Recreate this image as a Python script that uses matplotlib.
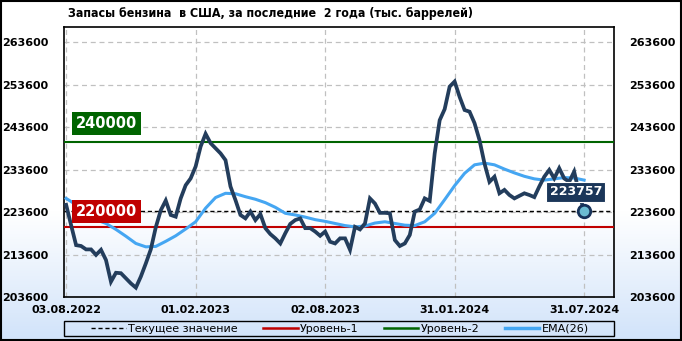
import matplotlib.pyplot as plt
import matplotlib.dates as mdates
from matplotlib.patches import Rectangle
from matplotlib.lines import Line2D
from matplotlib import font_manager
import numpy as np
import pandas as pd

# weekly gasoline stocks, thousand barrels
stocks = [225300, 220500, 215800, 215600, 214800, 214800, 213500, 214700, 212300, 207200,
          209300, 209200, 208000, 206800, 205800, 208400, 211500, 214800, 220000, 224000,
          226300, 222900, 222500, 226800, 229900, 231500, 234300, 239000, 242000, 239800,
          238600, 237400, 235800, 229600, 226400, 222900, 222100, 223700, 221700, 223100,
          219800, 218400, 217400, 216200, 218600, 220800, 221700, 222100, 219800, 219800,
          219000, 218000, 219000, 216600, 216200, 217400, 217400, 214700, 220100, 219500,
          220900, 226800, 225600, 223400, 223400, 223300, 217000, 215600, 216200, 218200,
          223700, 224200, 226800, 226200, 237400, 245200, 247800, 253100, 254300, 250700,
          247600, 247200, 244500, 240500, 235000, 230700, 231900, 228000, 228800, 227600,
          226800, 227400, 228000, 227600, 227100, 229600, 231900, 233500, 231500, 233900,
          231500, 230700, 233100, 228000, 223757]

# EMA(26) read every 2 weeks
ema = [226800, 225300, 223500, 221800, 220900, 219500, 217900, 216200, 215400, 215500,
       216700, 218000, 219600, 221300, 224500, 227000, 228000, 227900, 227200, 226600,
       225800, 224700, 223300, 222900, 222400, 221800, 221400, 220900, 220400, 220100,
       220300, 221000, 221300, 220900, 220500, 220400, 221300, 223300, 226500, 229800,
       232700, 234700, 235100, 234700, 233700, 232800, 232000, 231400, 231100, 231400,
       231700, 231600, 231100]

level1 = 220000
level2 = 240000
current = stocks[-1]

dates = pd.date_range("2022-08-03", periods=len(stocks), freq="7D")
ema_dates = dates[::2]
tick_dates = pd.to_datetime(["2022-08-03", "2023-02-01", "2023-08-02", "2024-01-31", "2024-07-31"])
yticks = np.arange(203600, 263601, 10000)

# narrow font for the title if there is one
title_kw = dict(family="DejaVu Sans", fontsize=7.7)
for fam, st, sz in [("Liberation Sans Narrow", "normal", 10), ("DejaVu Sans", "condensed", 8.9)]:
    fp = font_manager.FontProperties(family=fam, stretch=st, weight="bold")
    path = font_manager.findfont(fp, fallback_to_default=True)
    if "Narrow" in path or "Condensed" in path:
        title_kw = dict(family=fam, fontstretch=st, fontsize=sz)
        break

fig = plt.figure(figsize=(6.82, 3.41), dpi=100)

# background gradient
bg = fig.add_axes([0, 0, 1, 1], zorder=-10)
t = np.linspace(0, 1, 256)
g = np.clip((t - 0.62) / 0.38, 0, 1)
top = np.array([1.0, 1.0, 1.0])
bot = np.array([0.82, 0.89, 0.98])
grad = (top[None, :] * (1 - g[:, None]) + bot[None, :] * g[:, None])[:, None, :]
bg.imshow(grad, aspect="auto", extent=[0, 1, 0, 1], origin="upper")
bg.axis("off")
fig.patches.append(Rectangle((0.001, 0.002), 0.997, 0.995, transform=fig.transFigure,
                             fill=False, edgecolor="black", linewidth=1.5))

ax = fig.add_axes([64 / 682, 1 - 297 / 341, 550 / 682, 270 / 341])
ax.set_facecolor("none")

ax.plot(dates, stocks, color="#233d5c", linewidth=2.7, zorder=5, solid_joinstyle="miter")
ax.plot(ema_dates, ema, color="#45a6f2", linewidth=2.2, zorder=4)
ax.axhline(level1, color="#c00000", linewidth=1.5, zorder=3)
ax.axhline(level2, color="#006400", linewidth=1.5, zorder=3)
ax.axhline(current, color="black", linewidth=1, linestyle=(0, (3, 2)), zorder=3)
ax.plot(dates[-1], current, "o", markersize=9, markerfacecolor="#6bbcd2",
        markeredgecolor="#16325a", markeredgewidth=2, zorder=6)

ax.set_ylim(203600, 267130)
ax.set_xlim(dates[0] - pd.Timedelta(days=3), dates[0] + pd.Timedelta(days=770))
ax.set_yticks(yticks)
ax.set_xticks(tick_dates)
ax.xaxis.set_major_formatter(mdates.DateFormatter("%d.%m.%Y"))
ax.grid(True, color="#c0c0c0", linestyle=(0, (4, 3)), linewidth=0.9)
ax.tick_params(axis="both", length=0, labelsize=8)
ax.tick_params(axis="y", pad=11, labelright=True, right=False)
ax.tick_params(axis="x", pad=6)
for lab in ax.get_xticklabels() + ax.get_yticklabels():
    lab.set_fontweight("bold")
for lab in ax.yaxis.get_ticklabels(which="both"):
    lab.set_fontweight("bold")
for sp in ax.spines.values():
    sp.set_linewidth(1.2)

# level boxes
for lvl, col, off in [(level2, "#006400", 8), (level1, "#c00000", 6)]:
    ax.annotate(f"{lvl}", xy=(0.021, lvl), xycoords=("axes fraction", "data"),
                xytext=(0, off), textcoords="offset points", ha="left", va="bottom",
                color="white", fontsize=10.5, fontweight="bold", zorder=7,
                bbox=dict(boxstyle="square,pad=0.27", facecolor=col, edgecolor="none"))

ax.annotate(f"{current}", xy=(dates[-1], current), xytext=(-6, 14), textcoords="offset points",
            ha="center", va="center", color="white", fontsize=9, fontweight="bold", zorder=8,
            bbox=dict(boxstyle="square,pad=0.28", facecolor="#1b3659", edgecolor="white", linewidth=0.8))

fig.text(68 / 682, 1 - 13 / 341, "Запасы бензина  в США, за последние  2 года (тыс. баррелей)",
         fontweight="bold", ha="left", va="center", **title_kw)

# legend
fig.patches.append(Rectangle((64 / 682, 1 - 336 / 341), 550 / 682, 15 / 341,
                             transform=fig.transFigure, fill=False, edgecolor="black", linewidth=1))
handles = [Line2D([], [], color="black", linewidth=1, linestyle=(0, (3, 2))),
           Line2D([], [], color="#c00000", linewidth=1.8),
           Line2D([], [], color="#006400", linewidth=1.8),
           Line2D([], [], color="#45a6f2", linewidth=2.5)]
labels = ["Текущее значение", "Уровень-1", "Уровень-2", "EMA(26)"]
fig.legend(handles, labels, loc="center", ncol=4,
           bbox_to_anchor=(340 / 682, 1 - 328.5 / 341), fontsize=8, frameon=False,
           borderpad=0, handlelength=3.1, handletextpad=0.2, columnspacing=2.3,
           borderaxespad=0)

fig.savefig("out.png", dpi=100)
